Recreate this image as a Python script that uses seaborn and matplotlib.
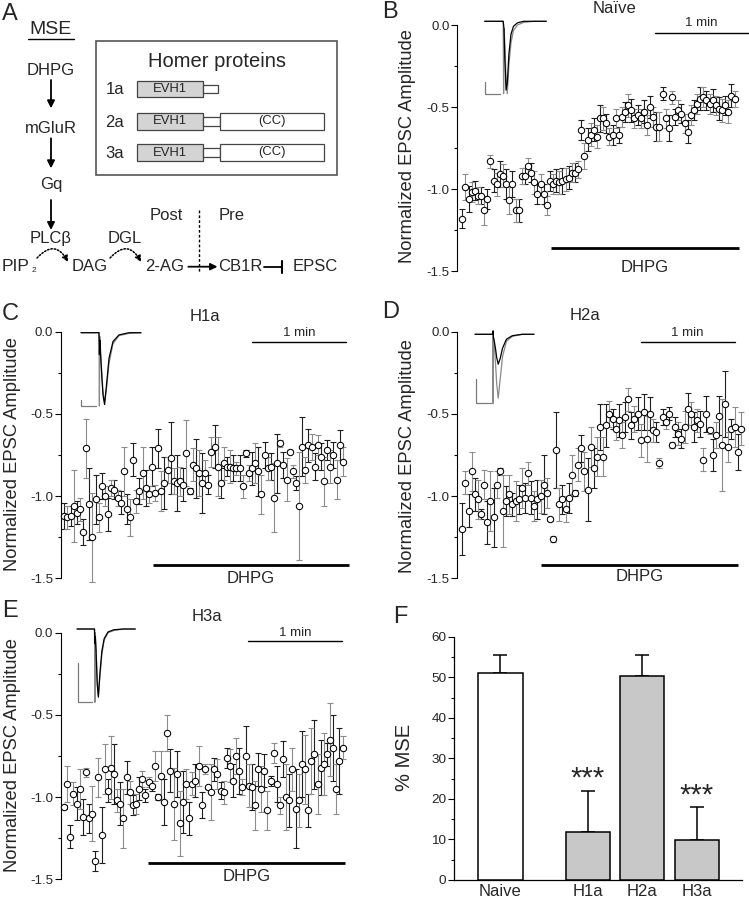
import numpy as np
import pandas as pd
import matplotlib
matplotlib.use("Agg")
import matplotlib.pyplot as plt
from matplotlib.patches import Rectangle
from matplotlib.ticker import MultipleLocator, FuncFormatter
import seaborn as sns

# ---------------- data ----------------
# normalized EPSC amplitude, one point every 2 s
naive_mean = [-1.18, -0.99, -1.06, -1.02, -1.01, -1.04, -1.04, -1.13, -1.06, -0.83,
              -0.95, -0.97, -0.91, -0.92, -0.97, -1.07, -0.97, -1.13, -1.13, -0.92,
              -0.92, -0.86, -0.90, -0.96, -1.03, -0.97, -1.03, -1.10, -0.95, -0.97,
              -0.95, -0.96, -0.95, -0.94, -0.93, -0.90, -0.90, -0.88, -0.64, -0.80,
              -0.70, -0.67, -0.64, -0.68, -0.57, -0.57, -0.60, -0.68, -0.67, -0.57,
              -0.67, -0.56, -0.53, -0.49, -0.52, -0.57, -0.55, -0.57, -0.53, -0.61,
              -0.50, -0.56, -0.62, -0.62, -0.42, -0.57, -0.63, -0.44, -0.56, -0.52,
              -0.54, -0.60, -0.65, -0.55, -0.52, -0.48, -0.45, -0.44, -0.46, -0.48,
              -0.46, -0.49, -0.51, -0.52, -0.49, -0.53, -0.43, -0.45]
naive_err = [0.06, 0.08, 0.08, 0.06, 0.06, 0.05, 0.05, 0.09, 0.06, 0.04,
             0.07, 0.07, 0.08, 0.07, 0.09, 0.08, 0.08, 0.07, 0.07, 0.05,
             0.05, 0.05, 0.06, 0.07, 0.06, 0.06, 0.06, 0.06, 0.06, 0.06,
             0.07, 0.07, 0.08, 0.07, 0.07, 0.06, 0.06, 0.05, 0.06, 0.08,
             0.07, 0.07, 0.07, 0.07, 0.08, 0.07, 0.06, 0.05, 0.06, 0.06,
             0.05, 0.06, 0.06, 0.07, 0.07, 0.06, 0.06, 0.06, 0.07, 0.06,
             0.07, 0.06, 0.09, 0.09, 0.04, 0.06, 0.08, 0.04, 0.05, 0.06,
             0.06, 0.06, 0.07, 0.06, 0.06, 0.06, 0.07, 0.06, 0.06, 0.06,
             0.07, 0.06, 0.07, 0.07, 0.06, 0.07, 0.07, 0.05]

h1a_mean = [-1.12, -1.13, -1.12, -1.06, -1.10, -1.08, -1.22, -0.71, -1.05, -1.25,
            -1.02, -1.13, -0.94, -1.00, -1.11, -0.95, -0.96, -1.01, -1.04, -0.85,
            -1.08, -1.13, -0.78, -1.03, -0.97, -0.86, -0.95, -0.99, -0.82, -0.98,
            -0.71, -0.97, -0.92, -0.84, -0.77, -0.91, -0.92, -0.91, -0.93, -0.74,
            -0.97, -0.81, -0.83, -0.86, -0.92, -0.86, -0.93, -0.73, -0.70, -0.82,
            -0.92, -0.80, -0.82, -0.82, -0.83, -0.83, -0.83, -0.94, -0.74, -0.86,
            -0.83, -0.80, -0.85, -0.99, -0.75, -0.83, -0.82, -1.01, -0.80, -0.68,
            -0.81, -0.90, -0.73, -0.85, -0.92, -1.06, -0.70, -0.84, -0.69, -0.70,
            -0.82, -0.69, -0.76, -0.91, -0.72, -0.82, -0.75, -0.90, -0.69, -0.79]
h1a_err = [0.08, 0.07, 0.06, 0.22, 0.07, 0.07, 0.08, 0.18, 0.22, 0.27,
           0.15, 0.09, 0.08, 0.06, 0.10, 0.05, 0.06, 0.05, 0.07, 0.15,
           0.09, 0.11, 0.10, 0.07, 0.08, 0.16, 0.11, 0.05, 0.12, 0.05,
           0.12, 0.12, 0.16, 0.08, 0.22, 0.08, 0.17, 0.09, 0.10, 0.20,
           0.02, 0.10, 0.18, 0.14, 0.18, 0.08, 0.06, 0.09, 0.13, 0.18,
           0.09, 0.10, 0.06, 0.10, 0.08, 0.04, 0.08, 0.07, 0.02, 0.05,
           0.10, 0.12, 0.15, 0.12, 0.08, 0.07, 0.08, 0.21, 0.18, 0.02,
           0.08, 0.13, 0.01, 0.04, 0.04, 0.33, 0.18, 0.08, 0.10, 0.08,
           0.08, 0.06, 0.08, 0.15, 0.06, 0.10, 0.08, 0.12, 0.09, 0.09]

h2a_mean = [-1.20, -0.92, -1.09, -0.85, -0.99, -1.02, -1.11, -0.93, -1.16, -1.03,
            -1.13, -0.93, -0.85, -1.09, -1.03, -0.99, -1.05, -1.03, -1.02, -0.95,
            -1.01, -0.86, -1.01, -1.06, -1.02, -1.00, -0.93, -0.98, -1.14, -1.26,
            -0.72, -1.05, -1.02, -1.08, -1.01, -0.87, -0.98, -0.81, -0.71, -0.85,
            -0.96, -0.70, -0.83, -0.76, -0.58, -0.76, -0.57, -0.50, -0.53, -0.59,
            -0.54, -0.63, -0.52, -0.41, -0.57, -0.53, -0.50, -0.66, -0.49, -0.65,
            -0.50, -0.60, -0.61, -0.80, -0.52, -0.55, -0.50, -0.69, -0.58, -0.62,
            -0.65, -0.58, -0.47, -0.50, -0.58, -0.54, -0.56, -0.78, -0.50, -0.60,
            -0.75, -0.63, -0.51, -0.69, -0.44, -0.70, -0.59, -0.58, -0.73, -0.59]
h2a_err = [0.16, 0.07, 0.10, 0.12, 0.10, 0.12, 0.03, 0.09, 0.13, 0.18,
           0.18, 0.08, 0.02, 0.22, 0.09, 0.12, 0.07, 0.12, 0.09, 0.12,
           0.09, 0.07, 0.10, 0.09, 0.12, 0.10, 0.18, 0.09, 0.01, 0.02,
           0.23, 0.10, 0.09, 0.08, 0.09, 0.12, 0.02, 0.10, 0.08, 0.12,
           0.19, 0.12, 0.12, 0.12, 0.14, 0.12, 0.13, 0.08, 0.06, 0.07,
           0.10, 0.08, 0.09, 0.07, 0.08, 0.08, 0.10, 0.10, 0.11, 0.14,
           0.10, 0.07, 0.06, 0.03, 0.05, 0.04, 0.04, 0.02, 0.06, 0.07,
           0.06, 0.10, 0.10, 0.07, 0.09, 0.07, 0.08, 0.07, 0.11, 0.02,
           0.10, 0.08, 0.12, 0.28, 0.20, 0.09, 0.06, 0.12, 0.11, 0.10]

h3a_mean = [-1.06, -0.92, -1.24, -0.98, -1.04, -0.95, -1.12, -0.85, -1.13, -1.10,
            -1.39, -0.88, -1.23, -0.83, -0.96, -0.82, -0.86, -1.02, -1.04, -1.13,
            -0.88, -0.97, -1.05, -1.04, -0.95, -0.89, -0.99, -0.91, -0.93, -0.81,
            -1.00, -0.87, -1.03, -0.61, -0.84, -1.04, -0.86, -1.16, -1.03, -0.92,
            -1.13, -0.92, -0.90, -0.81, -1.05, -0.83, -0.94, -0.97, -0.83, -0.86,
            -0.96, -0.97, -0.76, -0.81, -0.90, -0.75, -0.84, -0.94, -0.75, -0.93,
            -0.94, -1.05, -0.83, -0.95, -0.84, -1.08, -0.90, -0.73, -0.92, -1.05,
            -0.77, -1.00, -1.02, -0.83, -1.07, -1.02, -0.80, -0.83, -1.08, -0.78,
            -0.74, -0.92, -0.82, -0.80, -0.74, -0.65, -0.70, -0.95, -0.78, -0.70]
h3a_err = [0.01, 0.11, 0.07, 0.07, 0.10, 0.12, 0.11, 0.03, 0.09, 0.17,
           0.06, 0.12, 0.17, 0.15, 0.07, 0.19, 0.18, 0.07, 0.13, 0.18,
           0.10, 0.07, 0.06, 0.06, 0.07, 0.05, 0.04, 0.03, 0.03, 0.09,
           0.02, 0.15, 0.14, 0.11, 0.13, 0.22, 0.14, 0.20, 0.19, 0.09,
           0.10, 0.07, 0.10, 0.12, 0.08, 0.03, 0.01, 0.17, 0.07, 0.09,
           0.05, 0.07, 0.06, 0.10, 0.10, 0.11, 0.14, 0.05, 0.18, 0.13,
           0.14, 0.15, 0.10, 0.14, 0.10, 0.12, 0.03, 0.06, 0.11, 0.05,
           0.11, 0.20, 0.16, 0.13, 0.24, 0.16, 0.20, 0.21, 0.10, 0.20,
           0.21, 0.18, 0.17, 0.19, 0.07, 0.22, 0.20, 0.15, 0.20, 0.07]

# example EPSC traces (ms, normalized), black = baseline, gray = DHPG
trace_t = [0, 9.0, 9.2, 9.4, 9.8, 10.4, 11.0, 11.8, 12.8, 14.0, 16.0, 19.0, 24.0, 30.0]
naive_trace_black = [0, 0, -0.05, -0.10, -0.50, -0.95, -0.85, -0.45, -0.18, -0.07, -0.02, 0, 0, 0]
naive_trace_gray = [0, 0, -1.00, -0.10, -0.30, -0.80, -1.00, -0.60, -0.30, -0.13, -0.05, -0.015, 0, 0]
h1a_trace_black = [0, 0, -0.30, -0.10, -0.30, -0.60, -0.85, -0.98, -0.70, -0.35, -0.12, -0.03, 0, 0]
h1a_trace_gray = [0, 0, -1.00, -0.05, -0.25, -0.55, -0.80, -0.95, -0.75, -0.42, -0.15, -0.04, -0.01, 0]
h2a_trace_black = [0, 0, 0.05, -0.05, -0.10, -0.20, -0.33, -0.43, -0.35, -0.20, -0.07, -0.02, 0, 0]
h2a_trace_gray = [0, 0, -1.00, -0.05, -0.15, -0.40, -0.70, -0.92, -0.65, -0.32, -0.10, -0.03, 0, 0]
h3a_trace_black = [0, 0, -0.20, -0.10, -0.30, -0.75, -0.93, -0.60, -0.30, -0.13, -0.04, -0.01, 0, 0]
h3a_trace_gray = [0, 0, -1.00, -0.05, -0.25, -0.70, -0.90, -0.65, -0.35, -0.15, -0.05, -0.02, 0, 0]

# panel F
groups = ["Naive", "H1a", "H2a", "H3a"]
mse = [51.0, 11.9, 50.2, 9.9]
mse_err = [4.5, 10.1, 5.4, 8.0]
stars = ["", "***", "", "***"]

# ---------------- figure setup ----------------
W, H = 749, 900
sns.set_style("ticks")
plt.rcParams['font.family'] = ['Liberation Sans', 'DejaVu Sans']
plt.rcParams['axes.unicode_minus'] = False

fig = plt.figure(figsize=(W / 100, H / 100), dpi=100)
fig.patch.set_facecolor("white")


def px_rect(x0, y0, x1, y1):
    return [x0 / W, 1 - y1 / H, (x1 - x0) / W, (y1 - y0) / H]


PX_PER_S = 1.565   # 1 min = ~94 px
DT = 2.0


def fmt_tick(v, _):
    s = f"{v:.1f}"
    return "0.0" if s == "-0.0" else s


def time_panel(mean, err, box, first_px, dhpg, dhpg_y, dhpg_txt_y, min_start, min_y, min_txt_y):
    ax = fig.add_axes(px_rect(*box))
    t = np.arange(len(mean)) * DT
    m = np.array(mean)
    e = np.array(err)
    df = pd.DataFrame({"t": t, "amp": m})
    ax.errorbar(t[0::2], m[0::2], yerr=e[0::2], fmt="none", ecolor="#1e1e1e",
                elinewidth=0.8, capsize=2.2, capthick=0.8, zorder=2, clip_on=False)
    ax.errorbar(t[1::2], m[1::2], yerr=e[1::2], fmt="none", ecolor="#8c8c8c",
                elinewidth=0.8, capsize=2.2, capthick=0.8, zorder=2, clip_on=False)
    sns.scatterplot(data=df, x="t", y="amp", ax=ax, marker="o", s=21, color="white",
                    edgecolor="black", linewidth=0.75, zorder=3, legend=False, clip_on=False)
    ax.set_xlim(-(first_px - box[0]) / PX_PER_S, (box[2] - first_px) / PX_PER_S)
    ax.set_ylim(-1.5, 0.0)
    for s in ["top", "right", "bottom"]:
        ax.spines[s].set_visible(False)
    ax.spines["left"].set_color("black")
    ax.spines["left"].set_linewidth(0.8)
    ax.set_xticks([])
    ax.yaxis.set_major_locator(MultipleLocator(0.5))
    ax.yaxis.set_minor_locator(MultipleLocator(0.25))
    ax.yaxis.set_major_formatter(FuncFormatter(fmt_tick))
    ax.tick_params(axis="y", which="major", length=4, width=0.8, labelsize=9.5, pad=1.5,
                   direction="out", color="black")
    ax.tick_params(axis="y", which="minor", length=2.5, width=0.8, direction="out", color="black")
    ax.set_xlabel("")
    ax.set_ylabel("")
    ax.patch.set_alpha(0)
    ax.plot(dhpg, [dhpg_y, dhpg_y], color="black", lw=2.0, clip_on=False, solid_capstyle="butt")
    ax.text(sum(dhpg) / 2, dhpg_txt_y, "DHPG", ha="center", va="center", fontsize=12)
    ax.plot([min_start, min_start + 60], [min_y, min_y], color="black", lw=1.0, clip_on=False)
    ax.text(min_start + 30, min_txt_y, "1 min", ha="center", va="center", fontsize=9.5)
    return ax


def trace_inset(black, gray, box):
    ax = fig.add_axes(px_rect(*box))
    ax.set_xlim(0, 30)
    ax.set_ylim(-1, 0)
    ax.axis("off")
    ax.plot(trace_t, gray, color="#8a8a8a", lw=0.9, clip_on=False)
    ax.plot(trace_t, black, color="black", lw=0.9, clip_on=False)
    return ax


ax_b = time_panel(naive_mean, naive_err, (457.3, 25, 749, 271), 462.3,
                  (56.7, 176.8), -1.36, -1.48, 123, -0.05, 0.01)
ax_c = time_panel(h1a_mean, h1a_err, (61, 331.7, 352, 578.3), 64.3,
                  (56.5, 182.0), -1.42, -1.50, 120, -0.06, -0.01)
ax_d = time_panel(h2a_mean, h2a_err, (457.3, 331.7, 749, 578.3), 462.3,
                  (50.1, 176.4), -1.42, -1.49, 114, -0.06, -0.01)
ax_e = time_panel(h3a_mean, h3a_err, (61, 632.7, 352, 879.3), 64.0,
                  (53.7, 179.8), -1.40, -1.48, 117.6, -0.05, 0.0)

trace_inset(naive_trace_black, naive_trace_gray, (484.7, 21.3, 546.3, 93.7))
trace_inset(h1a_trace_black, h1a_trace_gray, (81, 332.7, 141, 406))
trace_inset(h2a_trace_black, h2a_trace_gray, (475, 334.3, 534, 403.7))
trace_inset(h3a_trace_black, h3a_trace_gray, (77, 629, 135.3, 702.3))

# ---------------- panel F ----------------
bar_pos = [0, 1.6, 2.6, 3.6]
ax_f = fig.add_axes(px_rect(454, 636.7, 741.7, 880))
ax_f.errorbar(bar_pos, mse, yerr=[np.zeros(len(mse)), mse_err], fmt="none", ecolor="black",
              elinewidth=1.1, capsize=5, capthick=1.1, zorder=2)
sns.barplot(x=bar_pos, y=mse, native_scale=True, width=0.81, color="#c8c8c8",
            edgecolor="black", linewidth=1.1, errorbar=None, ax=ax_f, zorder=3)
for p in ax_f.patches[:1]:
    p.set_facecolor("white")
ax_f.set_xlim(-0.85, 4.42)
ax_f.set_ylim(0, 60)
ax_f.set_xticks(bar_pos)
ax_f.set_xticklabels(groups)
ax_f.yaxis.set_major_locator(MultipleLocator(10))
ax_f.yaxis.set_minor_locator(MultipleLocator(5))
ax_f.tick_params(axis="x", length=0, pad=3, labelsize=12)
ax_f.tick_params(axis="y", which="major", length=4, width=0.8, labelsize=9.7, pad=1.5, color="black")
ax_f.tick_params(axis="y", which="minor", length=2.5, width=0.8, color="black")
for s in ["top", "right"]:
    ax_f.spines[s].set_visible(False)
for s in ["left", "bottom"]:
    ax_f.spines[s].set_color("black")
    ax_f.spines[s].set_linewidth(0.9)
ax_f.set_xlabel("")
ax_f.set_ylabel("")
ax_f.patch.set_alpha(0)
for x, v, e, st in zip(bar_pos, mse, mse_err, stars):
    if st:
        ax_f.text(x, v + e + 1.0, st, ha="center", va="baseline", fontsize=21)

# ---------------- overlay in pixel coordinates (panel A, labels) ----------------
ov = fig.add_axes([0, 0, 1, 1])
ov.set_xlim(0, W)
ov.set_ylim(H, 0)
ov.axis("off")
ov.patch.set_alpha(0)

for letter, x, y in [("A", 2, 20), ("B", 382, 18.3), ("C", 2, 320),
                     ("D", 382, 318.3), ("E", 2, 616.7), ("F", 393, 622.7)]:
    ov.text(x, y, letter, fontsize=17, ha="left", va="baseline")

ov.text(614, 12.7, "Naïve", fontsize=12, ha="center", va="baseline")
for title, x, y in [("H1a", 205, 316.7), ("H2a", 585, 315), ("H3a", 206.7, 616.7)]:
    ov.text(x, y, title, fontsize=12, ha="center", va="center")

for x, y in [(407.5, 145.7), (12.5, 454), (407.5, 456), (12.5, 755)]:
    ov.text(x, y, "Normalized EPSC Amplitude", rotation=90, fontsize=13.2, ha="center", va="center")
ov.text(405, 757.5, "% MSE", rotation=90, fontsize=14.5, ha="center", va="center")

# scale bars of the traces
for x, yb, h, w in [(485.3, 93.7, 11.7, 14.4), (81, 406, 6, 15), (476, 403, 24.3, 14.7), (77.7, 702.3, 39, 14.3)]:
    ov.plot([x, x, x + w], [yb - h, yb, yb], color="#7a7a7a", lw=0.9)

# panel A schematic
ov.text(50.8, 29, "MSE", fontsize=14, ha="center", va="center")
ov.plot([28.3, 74], [39.3, 39.3], color="black", lw=1.0)
for label, y in [("DHPG", 70.7), ("mGluR", 128.3), ("Gq", 184.3), ("PLCβ", 238.3)]:
    ov.text(51, y, label, fontsize=12, ha="center", va="center")
for y0, y1 in [(80, 108.3), (138.3, 168.3), (200, 230)]:
    ov.annotate("", xy=(51, y1), xytext=(51, y0),
                arrowprops=dict(arrowstyle="-|>", color="black", lw=1.3, mutation_scale=11,
                                shrinkA=0, shrinkB=0))
ov.text(16, 266.7, "PIP", fontsize=12.5, ha="center", va="center")
ov.text(33.5, 271, "2", fontsize=6, ha="center", va="center")
for label, x, y in [("DAG", 89.3, 266.7), ("DGL", 125, 238.3), ("2-AG", 165, 266.7),
                    ("CB1R", 240, 266.7), ("EPSC", 315, 266.7), ("Post", 166.7, 216), ("Pre", 231.7, 216)]:
    ov.text(x, y, label, fontsize=12, ha="center", va="center")
for (x0, y0), (x1, y1) in [((37, 258), (68, 262)), ((110, 258), (141, 262))]:
    ov.annotate("", xy=(x1, y1), xytext=(x0, y0),
                arrowprops=dict(arrowstyle="-|>", color="black", lw=1.1, linestyle=(0, (1, 1.2)),
                                mutation_scale=9, shrinkA=0, shrinkB=0,
                                connectionstyle="arc3,rad=-0.7"))
ov.annotate("", xy=(217.5, 266.7), xytext=(188.3, 266.7),
            arrowprops=dict(arrowstyle="-|>", color="black", lw=1.3, mutation_scale=10,
                            shrinkA=0, shrinkB=0))
ov.plot([263.5, 281.7], [266.7, 266.7], color="black", lw=1.3)
ov.plot([281.7, 281.7], [261, 273], color="black", lw=1.5)
ov.plot([199, 199], [210, 273.3], color="black", lw=1.0, linestyle=(0, (2, 1.5)))

ov.add_patch(Rectangle((96, 40.7), 240.7, 134.3, facecolor="none", edgecolor="#555555", lw=1.2))
ov.text(216.7, 61.7, "Homer proteins", fontsize=14.5, ha="center", va="center")
for row, yc in [("1a", 89), ("2a", 121.3), ("3a", 152.5)]:
    ov.text(115, yc + 1, row, fontsize=12, ha="center", va="center")
    ov.add_patch(Rectangle((137.3, yc - 8.2), 66, 16.4, facecolor="#d4d4d4", edgecolor="#444444", lw=0.9))
    ov.text(170.3, yc, "EVH1", fontsize=9.4, ha="center", va="center")
    if row == "1a":
        ov.add_patch(Rectangle((203.3, yc - 3.8), 14.4, 7.6, facecolor="white", edgecolor="#444444", lw=0.9))
    else:
        ov.add_patch(Rectangle((203.3, yc - 4.2), 16.7, 8.4, facecolor="white", edgecolor="#444444", lw=0.9))
        ov.add_patch(Rectangle((220, yc - 8.2), 104, 16.4, facecolor="white", edgecolor="#444444", lw=0.9))
        ov.text(272, yc, "(CC)", fontsize=9.4, ha="center", va="center")

fig.savefig("out.png", dpi=100)
